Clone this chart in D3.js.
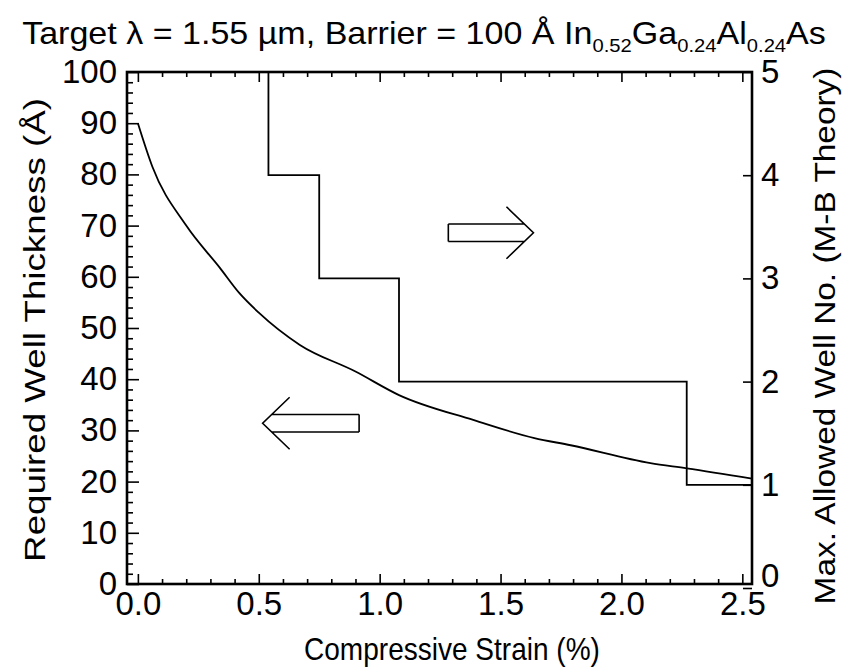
<!DOCTYPE html>
<html>
<head>
<meta charset="utf-8">
<script src="https://cdn.jsdelivr.net/npm/d3@7"></script>
<style>
  body { margin: 0; background: #fff; }
  svg { display: block; font-family: "Liberation Sans", Arial, Helvetica, sans-serif; }
</style>
</head>
<body>
<svg id="chart" width="847" height="670"></svg>
<script>
// curve: required well thickness (left axis)
const strain = [0, 0.06, 0.2, 0.34, 0.42, 0.5, 0.67, 0.9, 1.08, 1.39, 1.64, 1.79, 2.12, 2.27, 2.54];
const thickness = [90, 81.5, 70, 61.7, 56.8, 53, 46.7, 41.5, 36.9, 32, 28.5, 27.1, 23.6, 22.6, 20.6];

// step: max allowed well number (right axis)
const stepStrain = [0.54, 0.75, 1.08, 2.27, 2.54];
const stepWells = [5, 4, 3, 2, 1];

// ticks
const xMajor = [0, 0.5, 1, 1.5, 2, 2.5];
const yLeftMajor = [0, 10, 20, 30, 40, 50, 60, 70, 80, 90, 100];
const yRightMajor = [0, 1, 2, 3, 4, 5];

// arrows: [tip strain, tip thickness (left scale), tail strain]
const arrowRight = [1.636, 68.6, 1.284];
const arrowLeft = [0.516, 31.4, 0.915];

const svg = d3.select("#chart");
const frame = { left: 127, right: 752, top: 72, bottom: 584 };
const TICK_FONT = 33;

const x = d3.scaleLinear().domain([-0.045, 2.54]).range([frame.left, frame.right]);
const yL = d3.scaleLinear().domain([0, 100]).range([frame.bottom, frame.top]);
const yR = d3.scaleLinear().domain([0, 5]).range([588, frame.top]);

const xMinor = d3.range(0, 2.55, 0.1).map(v => +v.toFixed(2)).filter(v => !xMajor.includes(v));
const yMinor = d3.range(0, 101, 2).filter(v => v % 10 !== 0);

// styling helper for axis groups
const styleAxis = (g, showText) => {
  g.select(".domain").remove();
  g.selectAll("line").attr("stroke", "#000").attr("stroke-width", 1.6);
  if (showText)
    g.selectAll("text")
      .attr("fill", "#000")
      .attr("font-size", TICK_FONT)
      .attr("font-family", "Liberation Sans, Arial, sans-serif");
  else g.selectAll("text").remove();
};

// bottom axis
svg.append("g")
  .attr("transform", `translate(0,${frame.bottom})`)
  .call(d3.axisBottom(x).tickValues(xMajor).tickSize(-10).tickPadding(8).tickFormat(d3.format(".1f")))
  .call(g => styleAxis(g, true));
svg.append("g")
  .attr("transform", `translate(0,${frame.bottom})`)
  .call(d3.axisBottom(x).tickValues(xMinor).tickSize(-5))
  .call(g => styleAxis(g, false));

// top axis (ticks only)
svg.append("g")
  .attr("transform", `translate(0,${frame.top})`)
  .call(d3.axisTop(x).tickValues(xMajor).tickSize(-10))
  .call(g => styleAxis(g, false));
svg.append("g")
  .attr("transform", `translate(0,${frame.top})`)
  .call(d3.axisTop(x).tickValues(xMinor).tickSize(-5))
  .call(g => styleAxis(g, false));

// left axis
svg.append("g")
  .attr("transform", `translate(${frame.left},0)`)
  .call(d3.axisLeft(yL).tickValues(yLeftMajor).tickSize(-12).tickPadding(10))
  .call(g => styleAxis(g, true));
svg.append("g")
  .attr("transform", `translate(${frame.left},0)`)
  .call(d3.axisLeft(yL).tickValues(yMinor).tickSize(-6))
  .call(g => styleAxis(g, false));

// right axis
svg.append("g")
  .attr("transform", `translate(${frame.right},0)`)
  .call(d3.axisRight(yR).tickValues(yRightMajor).tickSize(-9).tickPadding(9).tickFormat(d3.format("d")))
  .call(g => styleAxis(g, true))
  // the 0 sits raised above the 2.5 label, like a superscript
  .call(g => g.selectAll(".tick text").filter(d => d === 0).attr("dy", "-0.05em"));

// frame
svg.append("rect")
  .attr("x", frame.left).attr("y", frame.top)
  .attr("width", frame.right - frame.left).attr("height", frame.bottom - frame.top)
  .attr("fill", "none").attr("stroke", "#000").attr("stroke-width", 2.6);

// thickness curve
const curveLine = d3.line()
  .x((d, i) => x(strain[i]))
  .y(d => yL(d))
  .curve(d3.curveMonotoneX);
svg.append("path")
  .attr("d", curveLine(thickness))
  .attr("fill", "none").attr("stroke", "#000").attr("stroke-width", 1.8);

// well number step
const stepLine = d3.line()
  .x((d, i) => x(stepStrain[i]))
  .y(d => yR(d))
  .curve(d3.curveStepBefore);
svg.append("path")
  .attr("d", stepLine(stepWells))
  .attr("fill", "none").attr("stroke", "#000").attr("stroke-width", 1.8);

// hollow arrows
const drawArrow = ([tipX, tipY, tailX]) => {
  const tx = x(tipX), ty = yL(tipY), bx = x(tailX);
  const dir = tx > bx ? 1 : -1;
  const h = 8.7, ax = 27, ay = 26;
  const meet = tx - dir * ax * h / ay;
  const p = d3.path();
  p.moveTo(bx, ty - h); p.lineTo(meet, ty - h);
  p.moveTo(bx, ty + h); p.lineTo(meet, ty + h);
  p.moveTo(bx, ty - h); p.lineTo(bx, ty + h);
  p.moveTo(tx - dir * ax, ty - ay); p.lineTo(tx, ty); p.lineTo(tx - dir * ax, ty + ay);
  svg.append("path")
    .attr("d", p.toString())
    .attr("fill", "none").attr("stroke", "#000").attr("stroke-width", 1.6);
};
drawArrow(arrowRight);
drawArrow(arrowLeft);

// fit text horizontally (in its own frame) to a target length
const fit = (sel, target, base) => {
  const w = sel.node().getBBox().width;
  sel.attr("transform", `${base} scale(${target / w},1)`);
};

// title
const title = svg.append("text")
  .attr("x", 0).attr("y", 0)
  .attr("text-anchor", "middle")
  .attr("font-size", 32)
  .attr("fill", "#000");
title.append("tspan").text("Target \u03bb = 1.55 \u00b5m, Barrier = 100 \u00c5 In");
const sub = (t) => title.append("tspan").attr("font-size", 19).attr("dy", 8).text(t);
const norm = (t) => title.append("tspan").attr("font-size", 32).attr("dy", -8).text(t);
sub("0.52"); norm("Ga"); sub("0.24"); norm("Al"); sub("0.24"); norm("As");
fit(title, 804, `translate(424,44)`);

// axis titles
const xTitle = svg.append("text")
  .attr("text-anchor", "middle").attr("font-size", 31).attr("fill", "#000")
  .text("Compressive Strain (%)");
fit(xTitle, 296, `translate(452,660)`);

const yTitle = svg.append("text")
  .attr("text-anchor", "middle").attr("font-size", 30).attr("fill", "#000")
  .text("Required Well Thickness (\u00c5)");
fit(yTitle, 464, `translate(45,330) rotate(-90)`);

const y2Title = svg.append("text")
  .attr("text-anchor", "middle").attr("font-size", 30).attr("fill", "#000")
  .text("Max. Allowed Well No. (M-B Theory)");
fit(y2Title, 537, `translate(835,336) rotate(-90)`);
</script>
</body>
</html>
